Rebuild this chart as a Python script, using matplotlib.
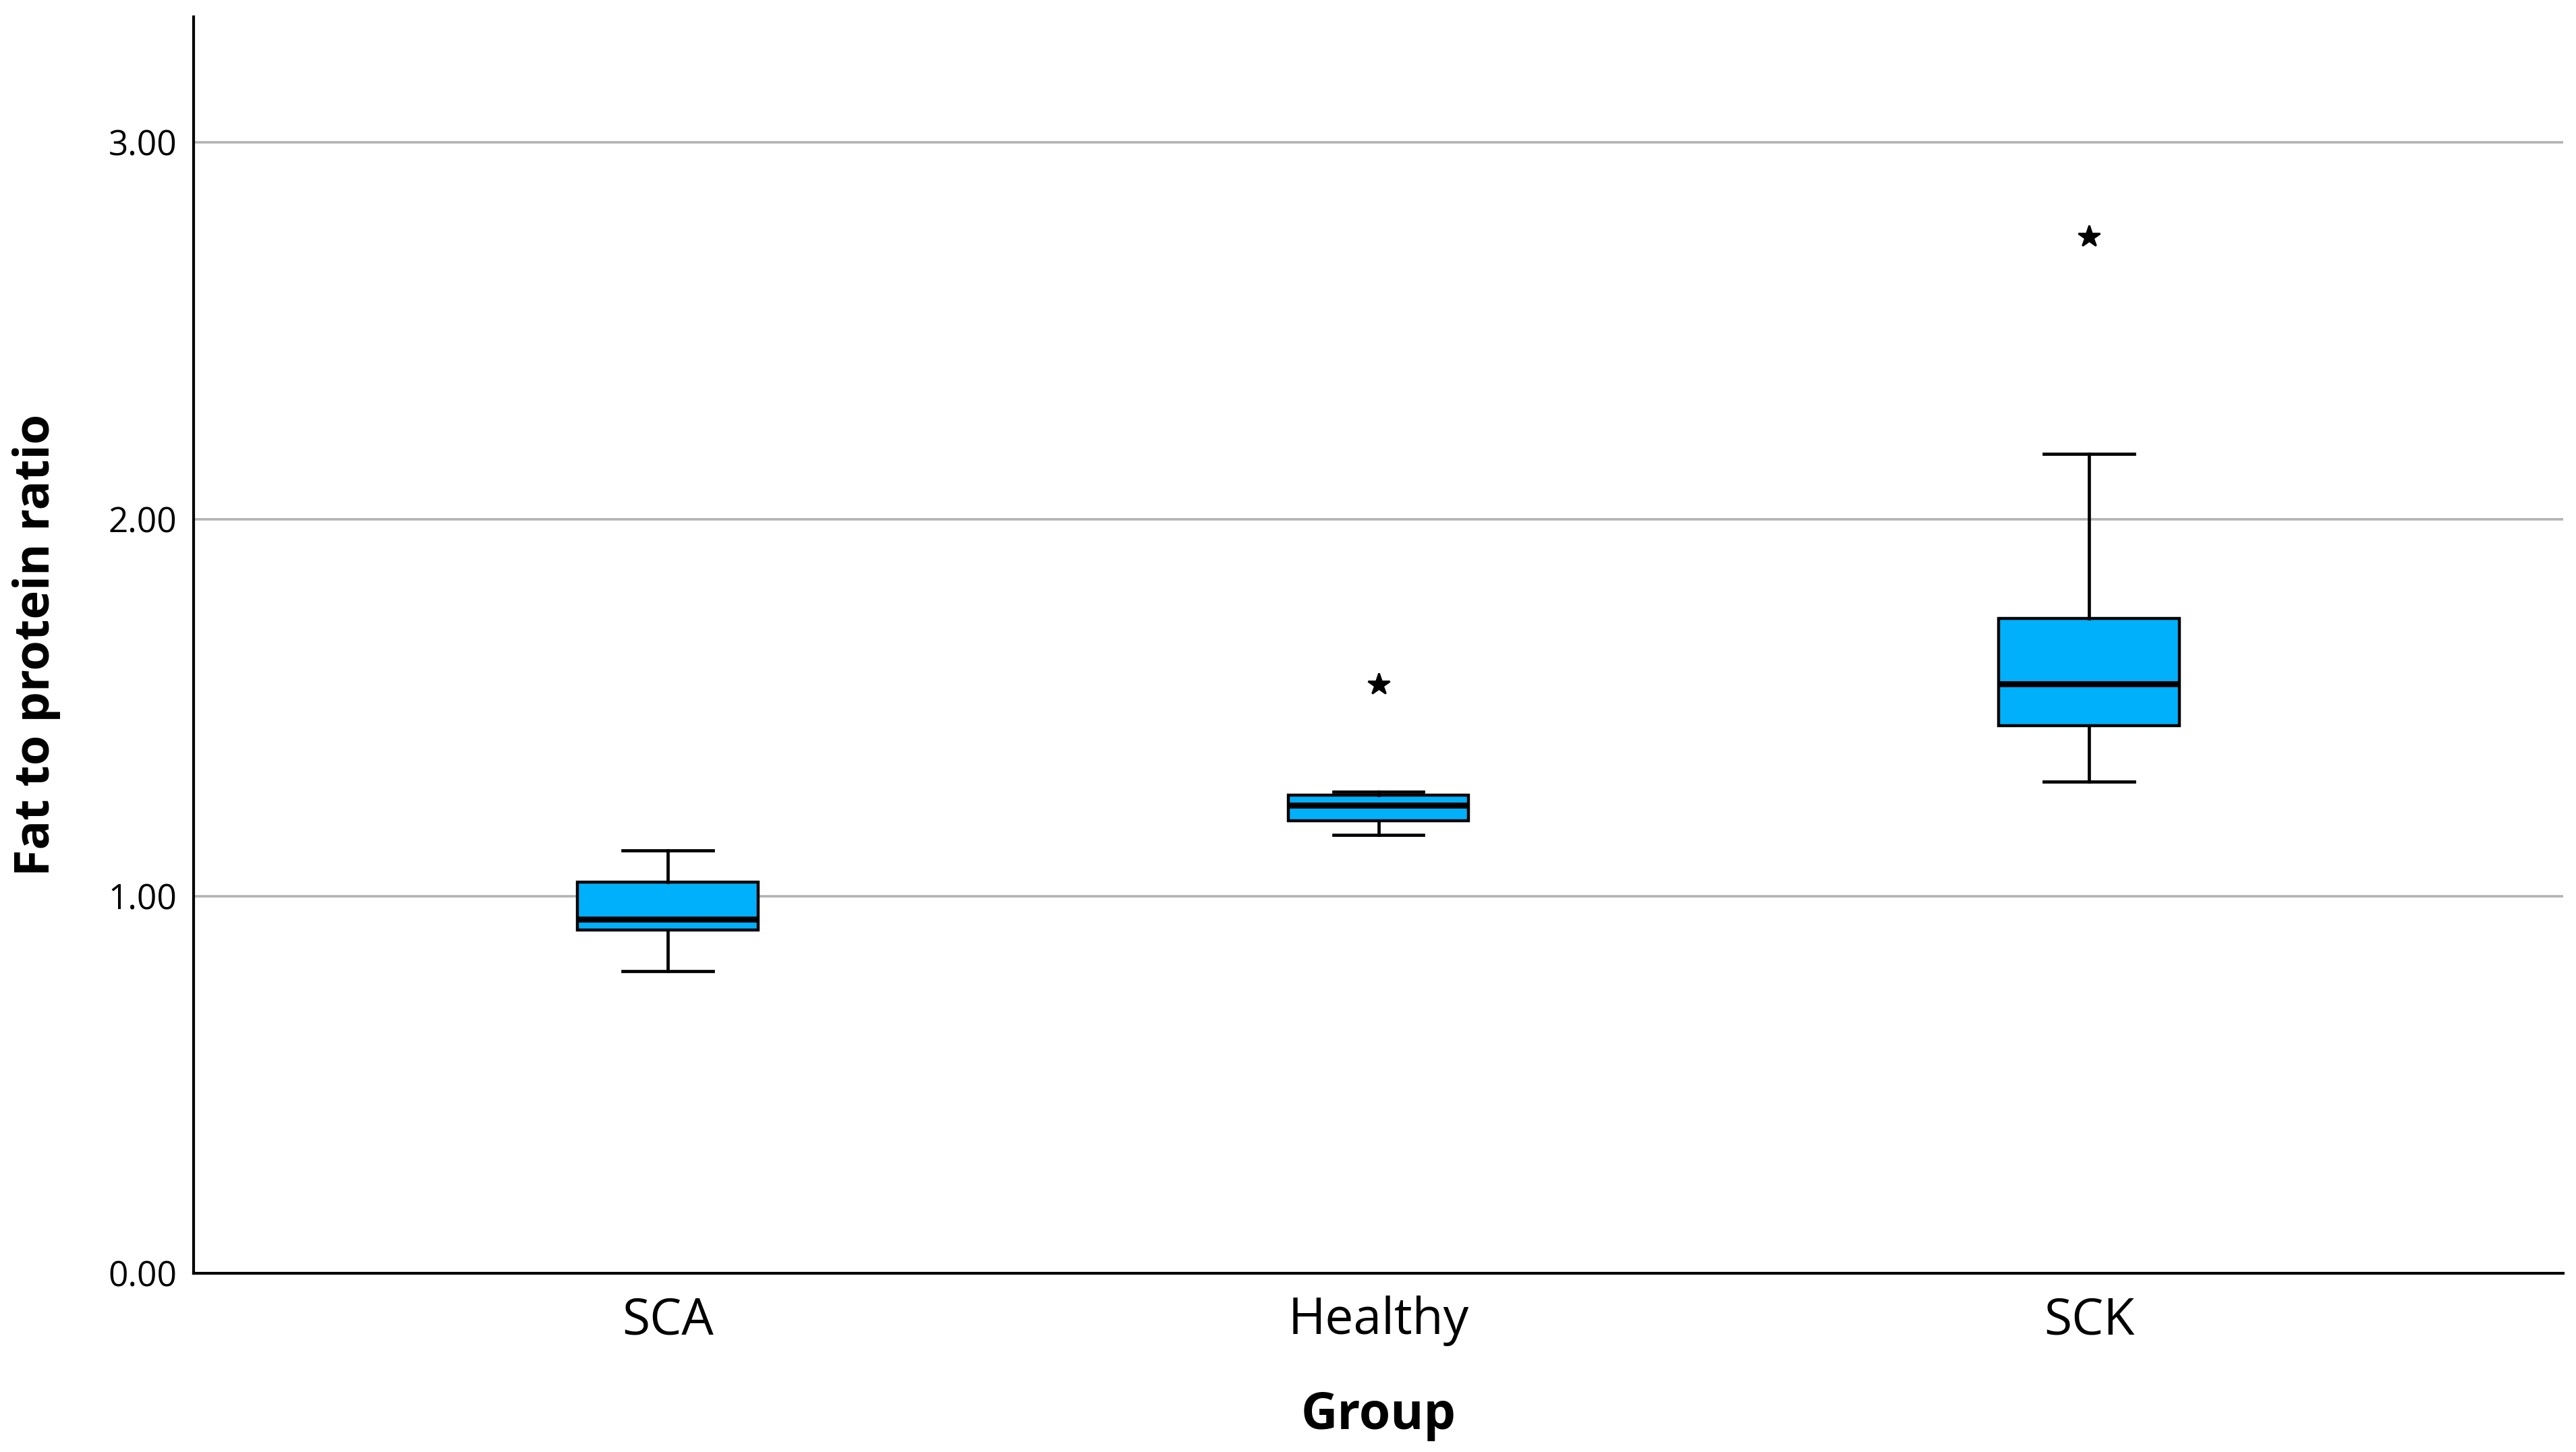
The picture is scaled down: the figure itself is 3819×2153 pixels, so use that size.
import matplotlib
matplotlib.use("Agg")
import matplotlib.pyplot as plt

# values
groups = ['SCA', 'Healthy', 'SCK']
q1 = [0.911, 1.200, 1.452]
medians = [0.939, 1.241, 1.563]
q3 = [1.037, 1.268, 1.738]
whisker_low = [0.802, 1.163, 1.305]
whisker_high = [1.122, 1.277, 2.174]
outliers = [[], [1.561], [2.750]]
y_ticks = [0.0, 1.0, 2.0, 3.0]

plt.rcParams['font.family'] = ['Open Sans', 'DejaVu Sans']

# build the stats dicts that bxp expects
stats = []
for i in range(len(groups)):
    stats.append({
        'label': groups[i],
        'q1': q1[i],
        'med': medians[i],
        'q3': q3[i],
        'whislo': whisker_low[i],
        'whishi': whisker_high[i],
        'fliers': outliers[i],
    })

fig = plt.figure(figsize=(19.095, 10.765), dpi=200)
ax = fig.add_axes([0.0752, 0.1231, 0.9198, 0.8653])

positions = list(range(1, len(groups) + 1))
ax.bxp(stats, positions=positions, widths=0.254, patch_artist=True,
       showfliers=True, zorder=3,
       boxprops=dict(facecolor='#00B0FA', edgecolor='black', linewidth=1.6),
       medianprops=dict(color='black', linewidth=3.2),
       whiskerprops=dict(color='black', linewidth=1.7),
       capprops=dict(color='black', linewidth=1.7),
       flierprops=dict(marker='*', markersize=12, markerfacecolor='black',
                       markeredgecolor='black', linestyle='none'))

ax.set_xlim(0.333, 3.667)
ax.set_ylim(0, 3.333)
ax.set_yticks(y_ticks)
ax.set_yticklabels(['{:.2f}'.format(v) for v in y_ticks])
ax.set_xticks(positions)
ax.set_xticklabels(groups)

# horizontal grid lines only
ax.yaxis.grid(True, color='#b3b3b3', linewidth=1.3, zorder=0)
ax.set_axisbelow(True)

for side in ['top', 'right']:
    ax.spines[side].set_visible(False)
for side in ['left', 'bottom']:
    ax.spines[side].set_linewidth(1.5)
    ax.spines[side].set_color('black')

ax.tick_params(axis='y', length=0, pad=9, labelsize=18.5)
ax.tick_params(axis='x', length=0, pad=12, labelsize=27)

ax.set_ylabel('Fat to protein ratio', fontsize=26, fontweight='bold')
ax.yaxis.set_label_coords(-0.056, 0.5)
ax.set_xlabel('Group', fontsize=27, fontweight='bold')
ax.xaxis.label.set_va('baseline')
ax.xaxis.set_label_coords(0.5, -0.124)

fig.savefig('out.png', dpi=200)
